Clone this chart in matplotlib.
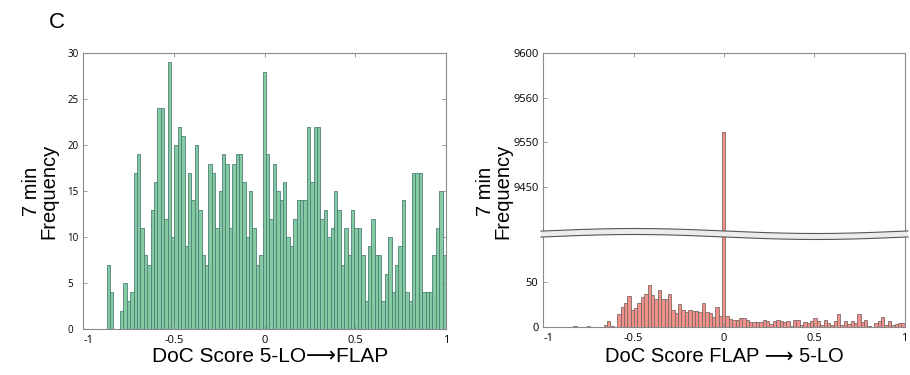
import numpy as np
import matplotlib
matplotlib.use("Agg")
import matplotlib.pyplot as plt
from matplotlib.patches import Polygon
from matplotlib.transforms import ScaledTranslation

# ---- data (counts per bin, 100 bins from -0.872 to 1) ----
bin_lo, bin_hi, n_bins = -0.872, 1.0, 100

counts_5lo_flap = [
    7, 4, 0, 0, 2, 5, 3, 4, 17, 19, 11, 8, 7, 13, 16, 24, 24, 12, 29, 10,
    20, 22, 21, 9, 17, 14, 20, 13, 8, 7, 18, 17, 11, 15, 19, 18, 11, 18, 19, 19,
    16, 10, 15, 11, 7, 8, 28, 19, 12, 18, 15, 14, 16, 10, 9, 12, 14, 14, 14, 22,
    16, 22, 22, 12, 13, 10, 11, 15, 13, 7, 11, 8, 13, 11, 11, 8, 3, 9, 12, 8,
    8, 3, 6, 10, 4, 7, 9, 14, 4, 3, 17, 17, 17, 4, 4, 4, 8, 11, 15, 8,
]

counts_flap_5lo = [
    0, 0, 1, 0, 0, 0, 1, 0, 0, 0, 0, 2, 6, 1, 0, 14, 22, 27, 34, 19,
    21, 27, 33, 37, 47, 35, 31, 41, 31, 31, 37, 19, 15, 25, 19, 17, 19, 18, 18, 16,
    26, 17, 15, 11, 22, 12, 9511, 12, 9, 7, 7, 10, 10, 8, 5, 5, 5, 5, 7, 6,
    3, 6, 7, 6, 5, 6, 1, 7, 7, 2, 5, 4, 6, 10, 6, 2, 7, 4, 2, 6,
    14, 2, 6, 3, 6, 4, 14, 5, 7, 1, 0, 4, 6, 11, 2, 6, 2, 3, 4, 4,
]

x_ticks = [-1, -0.5, 0, 0.5, 1]
x_ticklabels = ["-1", "-0.5", "0", "0.5", "1"]
left_yticks = [0, 5, 10, 15, 20, 25, 30]
low_yticks = [0, 50]
high_yticks = [9450, 9500, 9550, 9600]
high_yticklabels = ["9450", "9550", "9560", "9600"]

edges = np.linspace(bin_lo, bin_hi, n_bins + 1)
centers = (edges[:-1] + edges[1:]) / 2
width = edges[1] - edges[0]

W, H = 910, 375
fig = plt.figure(figsize=(W / 100, H / 100), dpi=100)


def rect(x0, y0, x1, y1):
    # pixel box (top-left origin) -> figure fraction
    return [x0 / W, 1 - y1 / H, (x1 - x0) / W, (y1 - y0) / H]


spine_c = "#8a8a8a"
tick_family = ["Open Sans", "DejaVu Sans"]
label_font = ["Liberation Sans", "DejaVu Sans"]


def style(ax, sides, ypad=3, ysize=7.5):
    for s in ["top", "bottom", "left", "right"]:
        ax.spines[s].set_visible(s in sides)
        ax.spines[s].set_color(spine_c)
        ax.spines[s].set_linewidth(0.8)
    ax.tick_params(direction="in", length=3, width=0.6, color=spine_c)
    ax.tick_params(axis="x", labelsize=8, pad=4.5)
    ax.tick_params(axis="y", labelsize=ysize, pad=ypad)
    for lab in ax.get_xticklabels() + ax.get_yticklabels():
        lab.set_fontfamily(tick_family)
    # the "-1" label sits a little right of its tick, as in the original
    xl = ax.get_xticklabels()
    if xl:
        xl[0].set_transform(xl[0].get_transform()
                            + ScaledTranslation(5 / 100, 0, fig.dpi_scale_trans))


# ---- left panel ----
ax1 = fig.add_axes(rect(83.3, 53.3, 446, 329))
ax1.bar(centers, counts_5lo_flap, width=width, color="#84cba2",
        edgecolor="#4f7f7a", linewidth=0.6)
ax1.set_xlim(-1, 1)
ax1.set_ylim(0, 30)
ax1.set_xticks(x_ticks)
ax1.set_xticklabels(x_ticklabels)
ax1.set_yticks(left_yticks)
ax1.tick_params(top=True, right=True)
style(ax1, ["top", "bottom", "left", "right"], ypad=11.5, ysize=7)
for lab in ax1.get_yticklabels():
    lab.set_horizontalalignment("left")

# ---- right panel (broken axis) ----
ax_lo = fig.add_axes(rect(543.3, 233, 904.7, 326.7))
ax_hi = fig.add_axes(rect(543.3, 53.3, 904.7, 233))
for ax in (ax_lo, ax_hi):
    ax.bar(centers, counts_flap_5lo, width=width, color="#f29189",
           edgecolor="#7d6a6a", linewidth=0.6)
    ax.set_xlim(-1, 1)
    ax.set_xticks(x_ticks)

ax_lo.set_ylim(0, 105)
ax_lo.set_yticks(low_yticks)
ax_lo.set_xticklabels(x_ticklabels)
style(ax_lo, ["bottom", "left", "right"], ypad=3.5, ysize=8)

ax_hi.set_ylim(9398, 9600)
ax_hi.set_yticks(high_yticks)
ax_hi.set_yticklabels(high_yticklabels)
ax_hi.tick_params(top=True, bottom=False, labelbottom=False)
style(ax_hi, ["top", "left", "right"], ypad=3.5, ysize=8)

# wavy break band
xs = np.linspace(541, 908, 200)
yc = 234 - 2.5 * np.cos(2 * np.pi * (xs - 634) / 364)
top = np.column_stack([xs / W, 1 - (yc - 3) / H])
bot = np.column_stack([xs[::-1] / W, 1 - (yc[::-1] + 3) / H])
fig.add_artist(Polygon(np.vstack([top, bot]), closed=True,
                       transform=fig.transFigure, facecolor="#ececec",
                       edgecolor="none", zorder=10))
fig.add_artist(plt.Line2D(top[:, 0], top[:, 1], transform=fig.transFigure,
                          color="#555555", lw=0.8, zorder=11))
fig.add_artist(plt.Line2D(bot[:, 0], bot[:, 1], transform=fig.transFigure,
                          color="#555555", lw=0.8, zorder=11))

# ---- texts ----
fig.text(57 / W, 1 - 22 / H, "C", fontsize=16, family=label_font,
         ha="center", va="center")
fig.text(270 / W, 1 - 357 / H, "DoC Score 5-LO\u27f6FLAP", fontsize=15,
         family=label_font, ha="center", va="center")
fig.text(724 / W, 1 - 357 / H, "DoC Score FLAP \u27f6 5-LO", fontsize=14.5,
         family=label_font, ha="center", va="center")
for xp in (40, 494):
    fig.text(xp / W, 1 - 191 / H, "7 min\nFrequency", fontsize=14.5,
             family=label_font, rotation=90, ha="center", va="center",
             linespacing=0.92, multialignment="center")

fig.savefig("out.png", dpi=100)
